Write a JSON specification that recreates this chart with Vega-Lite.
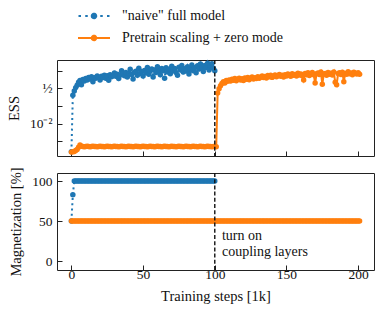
{
  "$schema": "https://vega.github.io/schema/vega-lite/v6.json",
  "padding": {"left": 5, "top": 8, "right": 6, "bottom": 5},
  "background": "white",
  "config": {
    "font": "Liberation Serif",
    "view": {"stroke": "#222", "strokeWidth": 1},
    "axis": {
      "domain": false, "grid": false, "tickColor": "#222", "tickSize": -5, "tickWidth": 1,
      "labelFont": "Liberation Serif", "labelFontSize": 13.5, "labelColor": "#111", "labelPadding": 10,
      "titleFont": "Liberation Serif", "titleFontSize": 14.5, "titleFontWeight": "normal", "titleColor": "#111"
    }
  },
  "datasets": {
    "d": [
      {"s":"a","t":0,"e":0.00025,"m":50},{"s":"a","t":1,"e":0.4,"m":83},{"s":"a","t":2,"e":0.7,"m":100},{"s":"a","t":3,"e":1.1,"m":100},{"s":"a","t":4,"e":1.5,"m":100},{"s":"a","t":5,"e":2.2,"m":100},{"s":"a","t":6,"e":2.8,"m":100},{"s":"a","t":7,"e":1.6,"m":100},{"s":"a","t":8,"e":3.2,"m":100},{"s":"a","t":9,"e":2.6,"m":100},
      {"s":"a","t":10,"e":3.6,"m":100},{"s":"a","t":11,"e":3.0,"m":100},{"s":"a","t":12,"e":4.2,"m":100},{"s":"a","t":13,"e":3.4,"m":100},{"s":"a","t":14,"e":4.6,"m":100},{"s":"a","t":15,"e":2.4,"m":100},{"s":"a","t":16,"e":4.0,"m":100},{"s":"a","t":17,"e":3.7,"m":100},{"s":"a","t":18,"e":5.0,"m":100},{"s":"a","t":19,"e":4.2,"m":100},
      {"s":"a","t":20,"e":3.0,"m":100},{"s":"a","t":21,"e":4.8,"m":100},{"s":"a","t":22,"e":4.1,"m":100},{"s":"a","t":23,"e":5.6,"m":100},{"s":"a","t":24,"e":3.8,"m":100},{"s":"a","t":25,"e":5.2,"m":100},{"s":"a","t":26,"e":2.9,"m":100},{"s":"a","t":27,"e":6.0,"m":100},{"s":"a","t":28,"e":4.5,"m":100},{"s":"a","t":29,"e":5.4,"m":100},
      {"s":"a","t":30,"e":7.5,"m":100},{"s":"a","t":31,"e":4.8,"m":100},{"s":"a","t":32,"e":6.4,"m":100},{"s":"a","t":33,"e":3.6,"m":100},{"s":"a","t":34,"e":5.8,"m":100},{"s":"a","t":35,"e":10.0,"m":100},{"s":"a","t":36,"e":7.2,"m":100},{"s":"a","t":37,"e":5.2,"m":100},{"s":"a","t":38,"e":8.0,"m":100},{"s":"a","t":39,"e":4.4,"m":100},
      {"s":"a","t":40,"e":7.0,"m":100},{"s":"a","t":41,"e":12.0,"m":100},{"s":"a","t":42,"e":6.2,"m":100},{"s":"a","t":43,"e":3.4,"m":100},{"s":"a","t":44,"e":8.2,"m":100},{"s":"a","t":45,"e":9.4,"m":100},{"s":"a","t":46,"e":5.6,"m":100},{"s":"a","t":47,"e":14.0,"m":100},{"s":"a","t":48,"e":7.0,"m":100},{"s":"a","t":49,"e":9.0,"m":100},
      {"s":"a","t":50,"e":5.0,"m":100},{"s":"a","t":51,"e":10.5,"m":100},{"s":"a","t":52,"e":7.6,"m":100},{"s":"a","t":53,"e":15.5,"m":100},{"s":"a","t":54,"e":6.4,"m":100},{"s":"a","t":55,"e":9.6,"m":100},{"s":"a","t":56,"e":12.5,"m":100},{"s":"a","t":57,"e":4.4,"m":100},{"s":"a","t":58,"e":11.0,"m":100},{"s":"a","t":59,"e":8.0,"m":100},
      {"s":"a","t":60,"e":17.0,"m":100},{"s":"a","t":61,"e":9.0,"m":100},{"s":"a","t":62,"e":6.0,"m":100},{"s":"a","t":63,"e":13.5,"m":100},{"s":"a","t":64,"e":10.0,"m":100},{"s":"a","t":65,"e":3.8,"m":100},{"s":"a","t":66,"e":15.0,"m":100},{"s":"a","t":67,"e":8.6,"m":100},{"s":"a","t":68,"e":12.0,"m":100},{"s":"a","t":69,"e":6.8,"m":100},
      {"s":"a","t":70,"e":18.0,"m":100},{"s":"a","t":71,"e":10.0,"m":100},{"s":"a","t":72,"e":13.5,"m":100},{"s":"a","t":73,"e":8.0,"m":100},{"s":"a","t":74,"e":5.6,"m":100},{"s":"a","t":75,"e":16.0,"m":100},{"s":"a","t":76,"e":11.0,"m":100},{"s":"a","t":77,"e":20.0,"m":100},{"s":"a","t":78,"e":8.6,"m":100},{"s":"a","t":79,"e":13.0,"m":100},
      {"s":"a","t":80,"e":9.6,"m":100},{"s":"a","t":81,"e":17.0,"m":100},{"s":"a","t":82,"e":6.6,"m":100},{"s":"a","t":83,"e":12.0,"m":100},{"s":"a","t":84,"e":21.0,"m":100},{"s":"a","t":85,"e":10.0,"m":100},{"s":"a","t":86,"e":15.0,"m":100},{"s":"a","t":87,"e":7.6,"m":100},{"s":"a","t":88,"e":19.0,"m":100},{"s":"a","t":89,"e":12.5,"m":100},
      {"s":"a","t":90,"e":24.0,"m":100},{"s":"a","t":91,"e":14.0,"m":100},{"s":"a","t":92,"e":9.0,"m":100},{"s":"a","t":93,"e":20.0,"m":100},{"s":"a","t":94,"e":15.5,"m":100},{"s":"a","t":95,"e":27.0,"m":100},{"s":"a","t":96,"e":11.0,"m":100},{"s":"a","t":97,"e":18.0,"m":100},{"s":"a","t":98,"e":25.0,"m":100},{"s":"a","t":99,"e":14.0,"m":100},
      {"s":"a","t":100,"e":10.0,"m":100},
      {"s":"b","t":0,"e":0.00024,"m":50},{"s":"b","t":1,"e":0.00025,"m":50},{"s":"b","t":2,"e":0.00026,"m":50},{"s":"b","t":3,"e":0.0003,"m":50},{"s":"b","t":4,"e":0.00034,"m":50},{"s":"b","t":5,"e":0.00045,"m":50},{"s":"b","t":6,"e":0.0006,"m":50},{"s":"b","t":7,"e":0.00052,"m":50},{"s":"b","t":8,"e":0.0005,"m":50},{"s":"b","t":9,"e":0.00049,"m":50},
      {"s":"b","t":10,"e":0.0005,"m":50},{"s":"b","t":11,"e":0.00051,"m":50},{"s":"b","t":12,"e":0.0005,"m":50},{"s":"b","t":13,"e":0.00049,"m":50},{"s":"b","t":14,"e":0.0005,"m":50},{"s":"b","t":15,"e":0.00051,"m":50},{"s":"b","t":16,"e":0.0005,"m":50},{"s":"b","t":17,"e":0.0005,"m":50},{"s":"b","t":18,"e":0.00049,"m":50},{"s":"b","t":19,"e":0.0005,"m":50},
      {"s":"b","t":20,"e":0.00051,"m":50},{"s":"b","t":21,"e":0.0005,"m":50},{"s":"b","t":22,"e":0.0005,"m":50},{"s":"b","t":23,"e":0.00049,"m":50},{"s":"b","t":24,"e":0.0005,"m":50},{"s":"b","t":25,"e":0.00051,"m":50},{"s":"b","t":26,"e":0.0005,"m":50},{"s":"b","t":27,"e":0.0005,"m":50},{"s":"b","t":28,"e":0.00049,"m":50},{"s":"b","t":29,"e":0.0005,"m":50},
      {"s":"b","t":30,"e":0.00051,"m":50},{"s":"b","t":31,"e":0.0005,"m":50},{"s":"b","t":32,"e":0.0005,"m":50},{"s":"b","t":33,"e":0.00049,"m":50},{"s":"b","t":34,"e":0.0005,"m":50},{"s":"b","t":35,"e":0.00051,"m":50},{"s":"b","t":36,"e":0.0005,"m":50},{"s":"b","t":37,"e":0.0005,"m":50},{"s":"b","t":38,"e":0.00049,"m":50},{"s":"b","t":39,"e":0.0005,"m":50},
      {"s":"b","t":40,"e":0.00051,"m":50},{"s":"b","t":41,"e":0.0005,"m":50},{"s":"b","t":42,"e":0.0005,"m":50},{"s":"b","t":43,"e":0.00049,"m":50},{"s":"b","t":44,"e":0.0005,"m":50},{"s":"b","t":45,"e":0.00051,"m":50},{"s":"b","t":46,"e":0.0005,"m":50},{"s":"b","t":47,"e":0.0005,"m":50},{"s":"b","t":48,"e":0.00049,"m":50},{"s":"b","t":49,"e":0.0005,"m":50},
      {"s":"b","t":50,"e":0.00051,"m":50},{"s":"b","t":51,"e":0.0005,"m":50},{"s":"b","t":52,"e":0.0005,"m":50},{"s":"b","t":53,"e":0.00049,"m":50},{"s":"b","t":54,"e":0.0005,"m":50},{"s":"b","t":55,"e":0.00051,"m":50},{"s":"b","t":56,"e":0.0005,"m":50},{"s":"b","t":57,"e":0.0005,"m":50},{"s":"b","t":58,"e":0.00049,"m":50},{"s":"b","t":59,"e":0.0005,"m":50},
      {"s":"b","t":60,"e":0.00051,"m":50},{"s":"b","t":61,"e":0.0005,"m":50},{"s":"b","t":62,"e":0.0005,"m":50},{"s":"b","t":63,"e":0.00049,"m":50},{"s":"b","t":64,"e":0.0005,"m":50},{"s":"b","t":65,"e":0.00051,"m":50},{"s":"b","t":66,"e":0.0005,"m":50},{"s":"b","t":67,"e":0.0005,"m":50},{"s":"b","t":68,"e":0.00049,"m":50},{"s":"b","t":69,"e":0.0005,"m":50},
      {"s":"b","t":70,"e":0.00051,"m":50},{"s":"b","t":71,"e":0.0005,"m":50},{"s":"b","t":72,"e":0.0005,"m":50},{"s":"b","t":73,"e":0.00049,"m":50},{"s":"b","t":74,"e":0.0005,"m":50},{"s":"b","t":75,"e":0.00051,"m":50},{"s":"b","t":76,"e":0.0005,"m":50},{"s":"b","t":77,"e":0.0005,"m":50},{"s":"b","t":78,"e":0.00049,"m":50},{"s":"b","t":79,"e":0.0005,"m":50},
      {"s":"b","t":80,"e":0.00051,"m":50},{"s":"b","t":81,"e":0.0005,"m":50},{"s":"b","t":82,"e":0.0005,"m":50},{"s":"b","t":83,"e":0.00049,"m":50},{"s":"b","t":84,"e":0.0005,"m":50},{"s":"b","t":85,"e":0.00051,"m":50},{"s":"b","t":86,"e":0.0005,"m":50},{"s":"b","t":87,"e":0.0005,"m":50},{"s":"b","t":88,"e":0.00049,"m":50},{"s":"b","t":89,"e":0.0005,"m":50},
      {"s":"b","t":90,"e":0.00051,"m":50},{"s":"b","t":91,"e":0.0005,"m":50},{"s":"b","t":92,"e":0.0005,"m":50},{"s":"b","t":93,"e":0.00049,"m":50},{"s":"b","t":94,"e":0.0005,"m":50},{"s":"b","t":95,"e":0.00051,"m":50},{"s":"b","t":96,"e":0.0005,"m":50},{"s":"b","t":97,"e":0.0005,"m":50},{"s":"b","t":98,"e":0.00049,"m":50},{"s":"b","t":99,"e":0.0005,"m":50},
      {"s":"b","t":100,"e":0.0005,"m":50},{"s":"b","t":101,"e":0.00049,"m":50},
      {"s":"b","t":102,"e":0.55,"m":50},{"s":"b","t":103,"e":0.95,"m":50},{"s":"b","t":104,"e":1.4,"m":50},{"s":"b","t":105,"e":1.9,"m":50},{"s":"b","t":106,"e":2.4,"m":50},{"s":"b","t":107,"e":2.0,"m":50},{"s":"b","t":108,"e":2.8,"m":50},{"s":"b","t":109,"e":2.5,"m":50},
      {"s":"b","t":110,"e":3.0,"m":50},{"s":"b","t":111,"e":2.6,"m":50},{"s":"b","t":112,"e":3.3,"m":50},{"s":"b","t":113,"e":2.9,"m":50},{"s":"b","t":114,"e":3.6,"m":50},{"s":"b","t":115,"e":2.7,"m":50},{"s":"b","t":116,"e":3.2,"m":50},{"s":"b","t":117,"e":3.8,"m":50},{"s":"b","t":118,"e":3.0,"m":50},{"s":"b","t":119,"e":3.5,"m":50},
      {"s":"b","t":120,"e":2.8,"m":50},{"s":"b","t":121,"e":3.9,"m":50},{"s":"b","t":122,"e":3.3,"m":50},{"s":"b","t":123,"e":4.1,"m":50},{"s":"b","t":124,"e":3.1,"m":50},{"s":"b","t":125,"e":3.7,"m":50},{"s":"b","t":126,"e":4.4,"m":50},{"s":"b","t":127,"e":3.4,"m":50},{"s":"b","t":128,"e":4.0,"m":50},{"s":"b","t":129,"e":3.6,"m":50},
      {"s":"b","t":130,"e":4.6,"m":50},{"s":"b","t":131,"e":3.8,"m":50},{"s":"b","t":132,"e":4.3,"m":50},{"s":"b","t":133,"e":5.0,"m":50},{"s":"b","t":134,"e":4.1,"m":50},{"s":"b","t":135,"e":4.7,"m":50},{"s":"b","t":136,"e":3.9,"m":50},{"s":"b","t":137,"e":5.3,"m":50},{"s":"b","t":138,"e":4.5,"m":50},{"s":"b","t":139,"e":5.6,"m":50},
      {"s":"b","t":140,"e":4.2,"m":50},{"s":"b","t":141,"e":4.9,"m":50},{"s":"b","t":142,"e":5.8,"m":50},{"s":"b","t":143,"e":4.6,"m":50},{"s":"b","t":144,"e":5.2,"m":50},{"s":"b","t":145,"e":6.2,"m":50},{"s":"b","t":146,"e":4.8,"m":50},{"s":"b","t":147,"e":5.5,"m":50},{"s":"b","t":148,"e":4.4,"m":50},{"s":"b","t":149,"e":6.0,"m":50},
      {"s":"b","t":150,"e":5.1,"m":50},{"s":"b","t":151,"e":6.5,"m":50},{"s":"b","t":152,"e":5.3,"m":50},{"s":"b","t":153,"e":4.9,"m":50},{"s":"b","t":154,"e":6.8,"m":50},{"s":"b","t":155,"e":5.6,"m":50},{"s":"b","t":156,"e":6.2,"m":50},{"s":"b","t":157,"e":5.0,"m":50},{"s":"b","t":158,"e":7.2,"m":50},{"s":"b","t":159,"e":5.8,"m":50},
      {"s":"b","t":160,"e":6.6,"m":50},{"s":"b","t":161,"e":5.2,"m":50},{"s":"b","t":162,"e":3.0,"m":50},{"s":"b","t":163,"e":6.9,"m":50},{"s":"b","t":164,"e":6.0,"m":50},{"s":"b","t":165,"e":7.6,"m":50},{"s":"b","t":166,"e":5.4,"m":50},{"s":"b","t":167,"e":6.4,"m":50},{"s":"b","t":168,"e":8.0,"m":50},{"s":"b","t":169,"e":5.9,"m":50},
      {"s":"b","t":170,"e":2.0,"m":50},{"s":"b","t":171,"e":6.8,"m":50},{"s":"b","t":172,"e":7.4,"m":50},{"s":"b","t":173,"e":6.1,"m":50},{"s":"b","t":174,"e":8.4,"m":50},{"s":"b","t":175,"e":1.7,"m":50},{"s":"b","t":176,"e":6.6,"m":50},{"s":"b","t":177,"e":7.0,"m":50},{"s":"b","t":178,"e":5.6,"m":50},{"s":"b","t":179,"e":8.0,"m":50},
      {"s":"b","t":180,"e":6.3,"m":50},{"s":"b","t":181,"e":7.3,"m":50},{"s":"b","t":182,"e":5.8,"m":50},{"s":"b","t":183,"e":8.6,"m":50},{"s":"b","t":184,"e":2.2,"m":50},{"s":"b","t":185,"e":1.6,"m":50},{"s":"b","t":186,"e":6.9,"m":50},{"s":"b","t":187,"e":7.8,"m":50},{"s":"b","t":188,"e":6.2,"m":50},{"s":"b","t":189,"e":8.2,"m":50},
      {"s":"b","t":190,"e":2.4,"m":50},{"s":"b","t":191,"e":7.0,"m":50},{"s":"b","t":192,"e":6.4,"m":50},{"s":"b","t":193,"e":8.8,"m":50},{"s":"b","t":194,"e":6.7,"m":50},{"s":"b","t":195,"e":7.5,"m":50},{"s":"b","t":196,"e":6.0,"m":50},{"s":"b","t":197,"e":8.1,"m":50},{"s":"b","t":198,"e":7.2,"m":50},{"s":"b","t":199,"e":6.5,"m":50},
      {"s":"b","t":200,"e":7.7,"m":50},{"s":"b","t":201,"e":6.4,"m":50}
    ]
  },
  "resolve": {"legend": {"color": "independent"}},
  "spacing": 8,
  "vconcat": [
    {
      "width": 317, "height": 96,
      "data": {"name": "d"},
      "layer": [
        {
          "mark": {"type": "line", "strokeWidth": 2, "strokeCap": "butt"},
          "encoding": {
            "x": {"field": "t", "type": "quantitative", "scale": {"domain": [-10.05, 211.05], "nice": false, "zero": false},
                  "axis": {"title": null, "labels": false, "values": [0, 50, 100, 150, 200]}},
            "y": {"field": "e", "type": "quantitative", "scale": {"type": "log", "domain": [0.0001445, 40.7], "nice": false},
                  "axis": {"title": "ESS", "values": [0.001, 0.01, 0.1, 1, 10], "titlePadding": 8,
                           "labelExpr": "abs(datum.value-1)<1e-6 ? '½' : abs(datum.value-0.01)<1e-8 ? '10⁻²' : ''"}},
            "color": {"field": "s", "type": "nominal",
                      "scale": {"domain": ["a", "b"], "range": ["#1f77b4", "#ff7f0e"]},
                      "legend": {
                        "orient": "none", "legendX": 30, "legendY": -51, "title": null,
                        "symbolType": "M-3.2,0H3.2M-0.45,0A0.45,0.45 0 1,1 0.45,0A0.45,0.45 0 1,1 -0.45,0Z",
                        "symbolSize": 100, "symbolStrokeWidth": 2, "labelOffset": 21, "rowPadding": 8, "labelLimit": 0,
                        "labelFont": "Liberation Serif", "labelFontSize": 14, "labelColor": "#111",
                        "labelExpr": "datum.value=='a' ? '\"naive\" full model' : 'Pretrain scaling + zero mode'",
                        "encode": {"symbols": {"update": {
                          "shape": {"signal": "datum.value=='a' ? 'M-3.1,0H-2.6M-1.75,0H-1.25M1.25,0H1.75M2.6,0H3.1M-0.45,0A0.45,0.45 0 1,1 0.45,0A0.45,0.45 0 1,1 -0.45,0Z' : 'M-3.2,0H3.2M-0.45,0A0.45,0.45 0 1,1 0.45,0A0.45,0.45 0 1,1 -0.45,0Z'"},
                          "strokeDash": {"value": [1, 0]},
                          "stroke": {"signal": "datum.value=='a' ? '#1f77b4' : '#ff7f0e'"},
                          "fill": {"signal": "datum.value=='a' ? '#1f77b4' : '#ff7f0e'"},
                          "opacity": {"value": 1}
                        }}}
                      }},
            "strokeDash": {"field": "s", "type": "nominal", "scale": {"domain": ["a", "b"], "range": [[2, 3.3], [1, 0]]}, "legend": null}
          }
        },
        {
          "mark": {"type": "point", "filled": true, "size": 30, "opacity": 1},
          "encoding": {
            "x": {"field": "t", "type": "quantitative"},
            "y": {"field": "e", "type": "quantitative"},
            "color": {"field": "s", "type": "nominal"}
          }
        },
        {
          "data": {"values": [{}]},
          "mark": {"type": "rule", "color": "#111", "strokeWidth": 1.4, "strokeDash": [4, 2.2]},
          "encoding": {"x": {"datum": 100}}
        }
      ]
    },
    {
      "width": 317, "height": 97,
      "data": {"name": "d"},
      "layer": [
        {
          "mark": {"type": "line", "strokeWidth": 2, "strokeCap": "butt"},
          "encoding": {
            "x": {"field": "t", "type": "quantitative", "scale": {"domain": [-10.05, 211.05], "nice": false, "zero": false},
                  "axis": {"title": "Training steps [1k]", "values": [0, 50, 100, 150, 200], "titlePadding": 9, "labelPadding": 2}},
            "y": {"field": "m", "type": "quantitative", "scale": {"domain": [-11, 110], "nice": false, "zero": false},
                  "axis": {"title": "Magnetization [%]", "values": [0, 50, 100], "titlePadding": 8}},
            "color": {"field": "s", "type": "nominal", "legend": null},
            "strokeDash": {"field": "s", "type": "nominal", "legend": null}
          }
        },
        {
          "mark": {"type": "point", "filled": true, "size": 30, "opacity": 1},
          "encoding": {
            "x": {"field": "t", "type": "quantitative"},
            "y": {"field": "m", "type": "quantitative"},
            "color": {"field": "s", "type": "nominal", "legend": null}
          }
        },
        {
          "data": {"values": [{}]},
          "mark": {"type": "rule", "color": "#111", "strokeWidth": 1.4, "strokeDash": [4, 2.2]},
          "encoding": {"x": {"datum": 100}}
        },
        {
          "data": {"values": [{}]},
          "mark": {"type": "text", "align": "left", "baseline": "middle", "fontSize": 14, "font": "Liberation Serif", "color": "#111", "lineHeight": 16},
          "encoding": {"x": {"datum": 105}, "y": {"datum": 31}, "text": {"value": ["turn on", "coupling layers"]}}
        }
      ]
    }
  ]
}
